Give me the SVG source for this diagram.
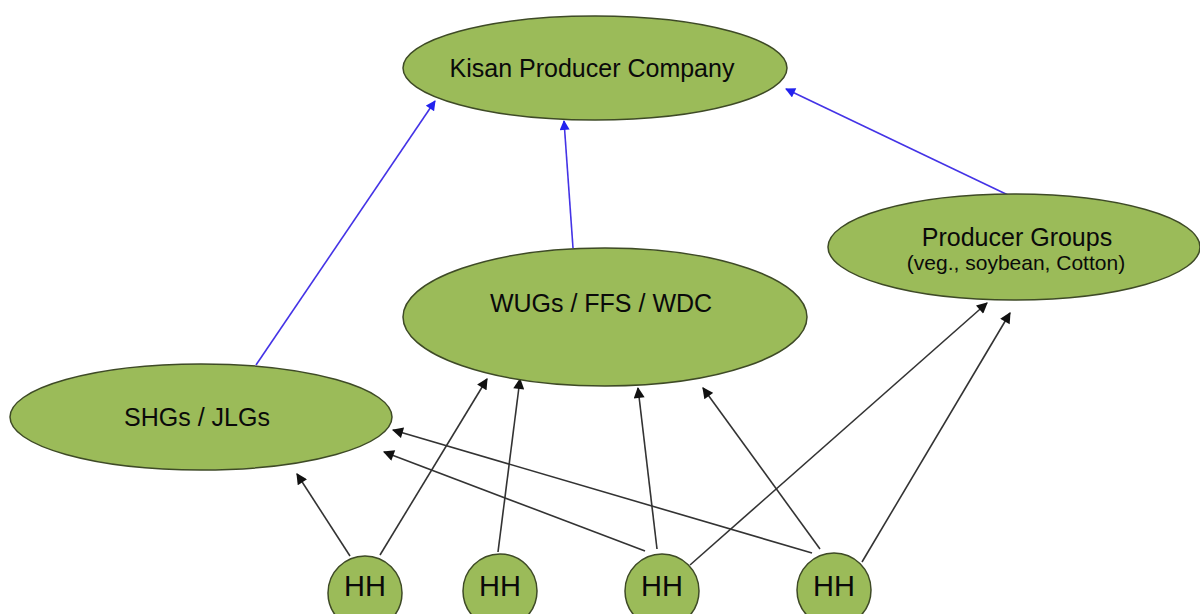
<svg xmlns="http://www.w3.org/2000/svg" width="1200" height="614" viewBox="0 0 1200 614">
<defs>
<style>
.node{fill:#9bbb59;stroke:#3e4a26;stroke-width:1.5}
.t{font-family:"Liberation Sans",Arial,sans-serif;fill:#0a0a0a;text-anchor:middle}
.blk{stroke:#333;stroke-width:1.6;fill:none;marker-end:url(#ah)}
.blu{stroke:#4433e6;stroke-width:1.6;fill:none;marker-end:url(#bh)}
</style>
<marker id="ah" viewBox="0 0 10 10" refX="9" refY="5" markerWidth="12" markerHeight="11" markerUnits="userSpaceOnUse" orient="auto"><path d="M0,0 L10,5 L0,10 z" fill="#111"/></marker>
<marker id="bh" viewBox="0 0 10 10" refX="9" refY="5" markerWidth="11" markerHeight="10" markerUnits="userSpaceOnUse" orient="auto"><path d="M0,0 L10,5 L0,10 z" fill="#2222ee"/></marker>
</defs>
<rect width="1200" height="614" fill="#fff"/>
<g id="connectors">
<line class="blu" x1="256" y1="365" x2="435" y2="101"/>
<line class="blu" x1="573" y1="248" x2="564" y2="121"/>
<line class="blu" x1="1008" y1="195" x2="786" y2="89"/>
<line class="blk" x1="350" y1="556" x2="297" y2="474"/>
<line class="blk" x1="380" y1="555" x2="487" y2="379"/>
<line class="blk" x1="498" y1="552" x2="520" y2="379"/>
<line class="blk" x1="645" y1="551" x2="384" y2="452"/>
<line class="blk" x1="657" y1="549" x2="638" y2="388"/>
<line class="blk" x1="690" y1="565" x2="987" y2="303"/>
<line class="blk" x1="812" y1="553" x2="393" y2="430"/>
<line class="blk" x1="820" y1="549" x2="703" y2="388"/>
<line class="blk" x1="862" y1="562" x2="1010" y2="313"/>
</g>
<g id="kisan">
<ellipse class="node" cx="595" cy="68" rx="192" ry="52"/>
<text class="t" x="592" y="77" font-size="25">Kisan Producer Company</text>
</g>
<g id="wugs">
<ellipse class="node" cx="605" cy="317" rx="202" ry="69"/>
<text class="t" x="601" y="312" font-size="25">WUGs / FFS / WDC</text>
</g>
<g id="producer">
<ellipse class="node" cx="1014" cy="247" rx="186" ry="53"/>
<text class="t" x="1017" y="246" font-size="25">Producer Groups</text>
<text class="t" x="1016" y="270" font-size="21">(veg., soybean, Cotton)</text>
</g>
<g id="shgs">
<ellipse class="node" cx="201" cy="417" rx="191" ry="53"/>
<text class="t" x="197" y="426" font-size="25">SHGs / JLGs</text>
</g>
<g id="hh1">
<circle class="node" cx="365" cy="593" r="37"/>
<text class="t" x="365" y="596" font-size="29">HH</text>
</g>
<g id="hh2">
<circle class="node" cx="500" cy="591" r="37"/>
<text class="t" x="500" y="596" font-size="29">HH</text>
</g>
<g id="hh3">
<circle class="node" cx="662" cy="591" r="37"/>
<text class="t" x="662" y="596" font-size="29">HH</text>
</g>
<g id="hh4">
<circle class="node" cx="834" cy="590" r="37"/>
<text class="t" x="834" y="596" font-size="29">HH</text>
</g>
</svg>
